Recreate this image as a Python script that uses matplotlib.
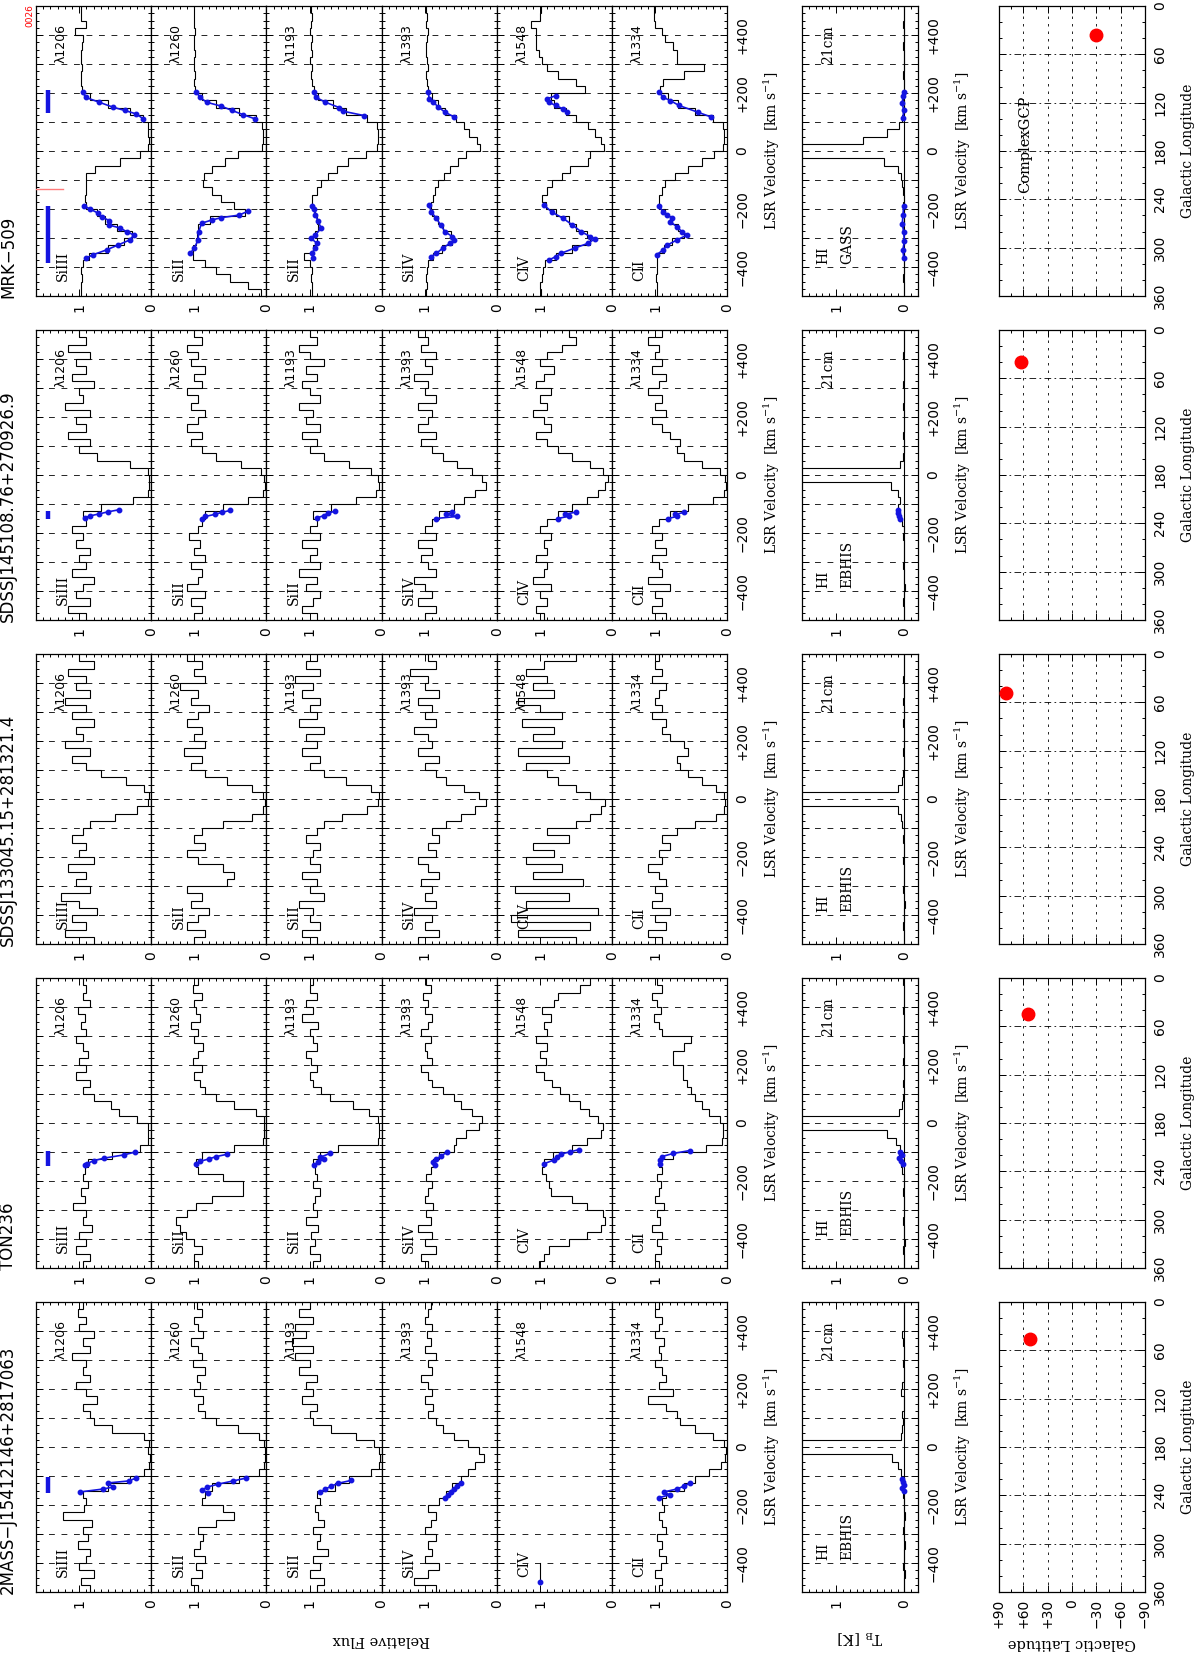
import numpy as np
import matplotlib.pyplot as plt
from matplotlib.ticker import MultipleLocator, FuncFormatter

plt.rcParams['mathtext.fontset'] = 'dejavuserif'

# ---------------- data ----------------
sources = ['2MASS\u2212J15412146+2817063', 'TON236', 'SDSSJ133045.15+281321.4',
           'SDSSJ145108.76+270926.9', 'MRK\u2212509']
hi_survey = ['EBHIS', 'EBHIS', 'EBHIS', 'EBHIS', 'GASS']
ion_names = ['SiIII', 'SiII', 'SiII', 'SiIV', 'CIV', 'CII']
ion_lines = ['\u03bb1206', '\u03bb1260', '\u03bb1193', '\u03bb1393', '\u03bb1548', '\u03bb1334']
gal_l = [45.5, 44.7, 48.0, 39.5, 36.0]
gal_b = [52.3, 54.6, 81.0, 63.0, -29.9]

# 25 km/s bins from -500 to +500
vel_edges = np.arange(-500, 501, 25)

# 2MASS-J15412146+2817063
tm_siiii = [.85, .97, .8, 1.0, .9, .85, 1.02, .88, .95, .82,
            1.22, .93, .9, .95, .6, .3, .1, .03, .02, .04,
            .03, .1, .55, .8, .85, .95, .75, .9, 1.05, .85,
            .95, .9, 1.1, .85, .95, .8, 1.0, .9, 1.02, .95]
tm_sii60 = [.95, 1.05, .9, .98, .85, 1.0, .92, .88, .95, .7,
            .45, .6, .9, .85, .75, .38, .1, .03, .02, .02,
            .03, .1, .4, .7, .85, .95, .88, 1.0, .92, .97,
            .85, 1.02, .9, .95, 1.05, .88, .95, 1.0, .9, .97]
tm_sii93 = [.9, .8, 1.0, .85, .95, .75, .9, .85, .95, .8,
            .88, .92, .85, .9, .65, .45, .15, .03, .02, .04,
            .1, .35, .7, .95, 1.0, .9, 1.1, .95, 1.05, .9,
            1.15, 1.0, 1.2, .95, 1.25, 1.05, 1.2, .95, 1.15, 1.0]
tm_siiv = [.85, 1.15, .95, .8, 1.0, .9, .95, .85, 1.0, .92,
           .85, .95, .8, .7, .62, .5, .4, .3, .18, .25,
           .4, .6, .75, .85, .95, .88, 1.0, .9, .95, 1.05,
           .9, .95, .85, 1.0, .92, .97, .9, 1.0, .95, .92]
tm_civ_v = [-465, -400]
tm_civ = [1.0, 1.0]
tm_cii = [.95, .9, 1.0, .92, .85, .95, .9, .98, .85, .9,
          .95, .88, .9, .85, .6, .45, .25, .08, .03, .02,
          .05, .2, .45, .65, .7, .85, 1.1, .75, .95, .85,
          .9, 1.0, .92, .95, .88, 1.0, .95, .9, 1.0, .95]
tm_hi = [.0, .01, -.01, .02, .0, .01, -.01, .0, .02, .01,
         -.01, .0, .01, .02, .03, .02, .05, .1, .18, 5.0,
         3.0, .05, .03, .02, .04, .01, .0, .05, .03, .01,
         .0, .02, .01, .0, .02, .03, .01, .0, .01, .0]
tm_blue_v = [[-155, -145, -138, -124, -117, -107],
             [-159, -148, -138, -128, -117, -107],
             [-155, -145, -135, -125, -115],
             [-175, -165, -155, -145, -135, -125],
             [-465],
             [-175, -165, -155, -145, -135, -125],
             [-150, -140, -130, -120, -110]]
tm_blue_f = [[.99, .67, .53, .6, .31, .21],
             [.81, .89, .82, .67, .46, .28],
             [.85, .78, .7, .6, .42],
             [.72, .68, .64, .6, .55, .5],
             [1.0],
             [.95, .8, .88, .7, .6, .52],
             [.01, .03, .0, .02, .04]]

# TON236
ton_siiii = [.95, .85, 1.05, .9, 1.0, .82, .95, .9, 1.08, .92,
             .97, .88, .95, .92, .88, .55, .15, .04, .04, .04,
             .2, .45, .56, .8, .95, .85, 1.05, .9, 1.0, .88,
             .95, 1.05, .9, .98, .92, 1.02, .85, .95, .9, .95]
ton_sii60 = [.95, 1.0, .9, 1.0, 1.12, 1.2, 1.25, 1.1, .98, .75,
             .33, .33, .6, .95, .98, .9, .45, .05, .03, .03,
             .03, .15, .45, .7, .85, .92, 1.0, .9, 1.02, .95,
             .88, 1.0, .95, 1.05, .92, .98, 1.0, .9, 1.02, .95]
ton_sii93 = [.95, .85, 1.0, .92, .98, .88, 1.05, .9, .95, .92,
             .85, .95, .9, .92, .95, .85, .6, .05, .04, .04,
             .05, .18, .4, .72, .84, .95, 1.0, .9, .98, 1.05,
             .9, .95, 1.0, .88, 1.1, .95, 1.05, .9, 1.0, .95]
ton_siiv = [.95, 1.05, .85, 1.0, .9, 1.1, .92, .98, .88, 1.0,
            .95, .9, .98, .92, .88, .8, .6, .56, .43, .25,
            .2, .35, .5, .6, .75, .9, .95, 1.05, .9, .97,
            1.0, .92, 1.05, .95, .9, 1.0, .95, 1.02, .92, .98]
ton_civ = [1.02, .95, .88, .6, .35, .15, .1, .12, .35, .55,
           .85, .88, .92, .97, .95, .82, .55, .35, .15, .13,
           .2, .32, .45, .6, .72, .84, .95, 1.05, .92, 1.0,
           .9, 1.05, .9, .95, .85, .97, .8, .75, .45, .3]
ton_cii = [.95, 1.0, .92, .97, .9, 1.05, .93, .97, .88, 1.0,
           .95, .92, .98, .9, .95, .75, .3, .07, .06, .06,
           .1, .25, .35, .45, .5, .56, .62, .62, .75, .75,
           .6, .5, .9, .95, 1.02, .92, .98, 1.05, .9, .97]
ton_hi = [.01, .0, .02, -.01, .01, .0, .02, .01, .0, .01,
          .02, .0, .01, .03, .05, .08, .06, .12, .25, 5.0,
          2.5, .08, .03, .02, .01, .02, .0, .01, .02, .0,
          .01, .02, .0, .01, .0, .02, .01, .0, .01, .02]
ton_blue_v = [[-145, -140, -130, -121, -110, -100],
              [-140, -132, -124, -116, -108],
              [-145, -135, -125, -118, -105],
              [-145, -135, -125, -115, -100],
              [-140, -128, -116, -107, -100, -92],
              [-140, -128, -116, -105, -95],
              [-140, -130, -120, -110, -100]]
ton_blue_f = [[.92, .89, .8, .65, .38, .22],
              [.98, .92, .8, .7, .55],
              [.94, .88, .8, .85, .72],
              [.86, .88, .84, .78, .69],
              [.94, .81, .76, .71, .59, .46],
              [.94, .93, .91, .75, .52],
              [.02, .05, .08, .04, .06]]

# SDSSJ133045.15+281321.4
s13_siiii = [.8, 1.2, .9, 1.1, .75, 1.0, 1.25, .85, 1.05, .9,
             1.15, .8, 1.0, .9, 1.1, .95, .85, .5, .2, .05,
             .03, .1, .35, .7, .9, 1.1, .85, 1.2, .95, 1.05,
             .8, 1.1, .9, 1.2, .85, 1.05, .9, 1.15, .8, 1.0]
s13_sii60 = [1.0, .85, 1.1, .95, .8, 1.05, .9, 1.1, .55, .45,
             .6, .95, 1.1, .85, 1.0, .9, .6, .2, .05, .02,
             .05, .2, .55, .85, 1.05, .9, 1.15, .85, 1.0, .9,
             1.1, .95, .8, 1.05, .95, 1.2, .85, 1.0, .9, 1.1]
s13_sii93 = [.9, 1.1, .85, 1.0, .95, 1.15, .8, 1.0, .9, 1.1,
             .85, 1.0, .95, .85, 1.05, .9, .8, .55, .2, .05,
             .03, .15, .5, .8, 1.0, .85, 1.1, .9, 1.05, .8,
             1.15, .9, 1.0, .85, 1.1, .95, 1.2, .85, 1.05, .9]
s13_siiv = [1.1, .8, 1.0, .9, 1.15, .85, 1.0, .9, 1.05, .8,
            .95, 1.1, .85, .95, .8, .9, .7, .5, .3, .15,
            .25, .45, .7, .85, 1.0, .8, 1.1, .9, .95, 1.15,
            .85, 1.0, .9, 1.1, .8, 1.0, .95, 1.2, .85, .95]
s13_civ = [.5, 1.3, .3, 1.4, .2, 1.2, .6, 1.35, .4, 1.1,
           .7, 1.2, .8, 1.1, .6, .9, .5, .3, .15, .1,
           .3, .5, .75, .9, 1.2, .6, 1.3, .7, 1.1, .8,
           1.25, .7, 1.0, 1.3, .8, 1.1, .9, 1.2, .95, .5]
s13_cii = [.9, 1.1, .85, 1.0, .8, 1.05, .9, 1.0, .85, .95,
           1.1, .9, .95, .8, .9, .7, .45, .15, .05, .03,
           .05, .15, .35, .55, .65, .7, .55, .6, .8, .9,
           .85, 1.05, .9, 1.0, .95, .85, 1.05, .9, 1.0, .95]
s13_hi = [.0, .01, .02, .0, .01, -.01, .0, .02, .01, .0,
          .01, .02, .0, .01, .02, .01, .03, .05, .1, 5.0,
          3.5, .1, .03, .02, .01, .0, .02, .01, .0, .01,
          .02, .0, .01, .02, .0, .01, .02, .0, .01, .0]
s13_blue_v = [[], [], [], [], [], [], []]
s13_blue_f = [[], [], [], [], [], [], []]

# SDSSJ145108.76+270926.9
s14_siiii = [.9, 1.15, .85, 1.05, .95, .8, 1.1, .9, 1.0, .85,
             1.05, .95, 1.1, .9, .95, .7, .25, .05, .03, .03,
             .05, .3, .75, 1.0, .85, 1.15, .9, 1.05, .85, 1.2,
             .95, 1.0, .8, 1.1, .9, 1.05, .85, 1.15, .9, 1.0]
s14_sii60 = [1.0, .9, 1.05, .85, 1.1, .95, .9, 1.05, .85, 1.0,
             .92, 1.08, .95, .9, .85, .6, .25, .05, .02, .03,
             .08, .35, .7, .9, 1.05, .9, 1.1, .95, .85, 1.05,
             .95, 1.1, .9, 1.0, .85, 1.05, .95, 1.1, .9, 1.0]
s14_sii93 = [.9, 1.1, .95, .85, 1.05, .9, 1.15, .85, 1.0, .9,
             1.1, .85, 1.0, .9, .95, .7, .35, .08, .04, .05,
             .15, .45, .8, 1.0, .9, 1.1, .85, 1.05, .95, 1.15,
             .85, 1.0, 1.1, .9, 1.05, .8, 1.0, 1.15, .9, 1.0]
s14_siiv = [1.0, .85, 1.1, .9, 1.0, 1.15, .85, .95, 1.05, .9,
            1.1, .85, 1.0, .9, .8, .6, .45, .3, .15, .2,
            .35, .55, .75, .9, 1.05, .85, 1.1, .95, .9, 1.1,
            .85, 1.0, .95, 1.15, .9, 1.0, .85, 1.05, .95, 1.1]
s14_civ = [.95, 1.05, .9, 1.0, .85, 1.1, .95, .9, 1.05, .9,
           .95, .85, 1.0, .9, .75, .55, .35, .2, .1, .05,
           .12, .3, .55, .75, .9, 1.05, .85, .95, 1.1, .9,
           1.0, .85, 1.05, .95, .8, 1.0, .9, .7, .5, .6]
s14_cii = [.85, 1.05, .9, 1.0, .8, 1.1, .9, .95, 1.05, .85,
           1.0, .9, 1.05, .95, .8, .55, .2, .04, .02, .03,
           .1, .35, .6, .7, .65, .8, .9, 1.05, .85, 1.0,
           .9, 1.1, .95, .85, 1.05, .9, 1.0, .95, 1.1, .9]
s14_hi = [.01, .0, .02, .01, -.01, .0, .01, .02, .0, .01,
          .0, .02, .01, .03, .06, .1, .07, .1, .2, 5.0,
          3.0, .06, .02, .01, .0, .02, .01, .0, .01, .02,
          .0, .01, .02, .0, .01, .0, .02, .01, .0, .01]
s14_blue_v = [[-148, -141, -134, -127, -120],
              [-150, -143, -136, -129, -122],
              [-148, -140, -132, -125],
              [-150, -143, -136, -129],
              [-150, -142, -135, -128],
              [-150, -143, -136, -129],
              [-150, -140, -130, -120]]
s14_blue_f = [[.92, .85, .72, .6, .45],
              [.9, .85, .72, .62, .5],
              [.9, .8, .75, .65],
              [.85, .55, .7, .62],
              [.75, .6, .65, .5],
              [.82, .7, .72, .6],
              [.06, .08, .1, .09]]

# MRK-509
mrk_siiii = [.97, .98, .96, .97, .95, .86, .6, .38, .27, .48,
             .64, .75, .9, .92, .91, .91, .9, .78, .43, .15,
             .04, .03, .04, .05, .12, .3, .6, .85, .96, .97,
             .98, .96, .97, .98, .96, .95, 1.06, .9, .97, .98]
mrk_sii60 = [.08, .25, .5, .7, .85, 1.02, 1.02, .98, .96, .95,
             .78, .3, .45, .63, .76, .88, .86, .75, .57, .4,
             .06, .05, .05, .06, .15, .38, .7, .9, .99, 1.0,
             .99, 1.01, 1.0, .99, 1.0, 1.01, .99, 1.0, 1.0, 1.0]
mrk_sii93 = [.97, .96, .98, .97, .99, 1.08, .95, .9, .93, .88,
             .9, .92, .96, .97, .9, .84, .75, .62, .46, .21,
             .06, .05, .05, .06, .2, .5, .68, .88, .94, .97,
             .98, .96, .99, .97, .98, .96, .99, .98, .97, .98]
mrk_siiv = [.98, .97, .99, .97, .96, .88, .76, .62, .64, .75,
            .82, .9, .92, .88, .86, .81, .74, .65, .54, .43,
            .24, .28, .38, .45, .57, .72, .82, .9, .95, .97,
            .98, .96, .97, .99, .98, .97, .96, .98, .97, .98]
mrk_civ = [.98, 1.0, .97, .96, .93, .78, .55, .3, .35, .5,
           .6, .78, .92, .97, .9, .84, .7, .58, .33, .3,
           .11, .15, .24, .34, .5, .64, .8, .85, .38, .5,
           .75, .9, .97, 1.02, 1.06, 1.05, 1.06, 1.12, 1.0, .98]
mrk_cii = [.98, .97, .99, .98, .97, .97, .88, .76, .6, .68,
           .78, .86, .95, .95, .9, .86, .73, .54, .35, .19,
           .06, .05, .05, .06, .2, .45, .68, .82, .93, .89,
           .6, .32, .7, .7, .75, .86, .9, 1.0, 1.02, 1.01]
mrk_hi = [.01, .0, .02, .01, .0, .01, .02, .0, .01, .02,
          .01, .0, .02, .01, .02, .03, .05, .1, .3, 6.0,
          4.0, .6, .25, .08, .03, .02, .01, .02, .0, .01,
          .02, .01, .0, .01, .02, .0, .01, .02, .01, .0]
mrk_blue_v = [[-370, -358, -341, -324, -307, -290, -278, -265, -255, -240, -227, -214, -200, -189,
               111, 128, 140, 151, 168, 185, 203],
              [-353, -335, -307, -278, -249, -238, -230, -221, -207,
               111, 125, 140, 155, 168, 185, 205],
              [-370, -353, -335, -318, -301, -290, -266, -243, -220, -201, -189,
               122, 137, 150, 168, 185, 203],
              [-364, -353, -335, -318, -307, -295, -278, -255, -232, -210, -187,
               117, 134, 151, 168, 180, 203],
              [-375, -364, -353, -335, -318, -303, -295, -278, -255, -232, -210, -187,
               134, 145, 157, 168, 180, 191],
              [-358, -341, -324, -307, -290, -278, -261, -244, -232, -221, -210, -189,
               117, 134, 157, 174, 185, 205],
              [-370, -340, -310, -280, -250, -220, -190, 115, 140, 165, 190, 205]]
mrk_blue_f = [[.91, .81, .62, .46, .30, .24, .34, .44, .59, .58, .69, .74, .85, .94,
               .11, .21, .37, .53, .72, .91, .95],
              [1.06, 1.0, .95, .94, .9, .76, .63, .38, .25,
               .16, .32, .48, .63, .83, .92, .98],
              [.95, .97, .92, .9, .98, .92, .84, .88, .92, .94, .97,
               .24, .53, .59, .78, .91, .94],
              [.91, .84, .75, .65, .59, .62, .72, .78, .84, .91, .94,
               .59, .72, .81, .88, .94, .95],
              [.87, .78, .71, .52, .33, .24, .3, .43, .55, .68, .84, .94,
               .62, .68, .78, .88, .9, .78],
              [.98, .89, .83, .7, .56, .63, .7, .79, .76, .83, .89, .95,
               .22, .41, .67, .79, .89, .95],
              [.01, .02, .0, .01, .03, .02, .01, .02, .01, .03, .02, .01]]

# velocity ranges marked with a blue bar in the SiIII panels
bar_lo = [[-159], [-149], [], [-150], [-387, 132]]
bar_hi = [[-103], [-97], [], [-125], [-189, 212]]

# ---------------- layout ----------------
W, H = 1200, 1655
ROW_BOTTOM = [1592, 1268, 944, 620, 296]
ROW_H = 290
ION_X0, ION_W = 36, 115.2
HI_X0, HI_W = 802, 116
MAP_X0, MAP_W = 999, 146
BLUE = '#1414e0'
SERIF = 'DejaVu Serif'
NARROW = ['Liberation Sans Narrow', 'DejaVu Sans']

spectra = [
    [tm_siiii, tm_sii60, tm_sii93, tm_siiv, tm_civ, tm_cii, tm_hi],
    [ton_siiii, ton_sii60, ton_sii93, ton_siiv, ton_civ, ton_cii, ton_hi],
    [s13_siiii, s13_sii60, s13_sii93, s13_siiv, s13_civ, s13_cii, s13_hi],
    [s14_siiii, s14_sii60, s14_sii93, s14_siiv, s14_civ, s14_cii, s14_hi],
    [mrk_siiii, mrk_sii60, mrk_sii93, mrk_siiv, mrk_civ, mrk_cii, mrk_hi],
]
blue_v = [tm_blue_v, ton_blue_v, s13_blue_v, s14_blue_v, mrk_blue_v]
blue_f = [tm_blue_f, ton_blue_f, s13_blue_f, s14_blue_f, mrk_blue_f]

fig = plt.figure(figsize=(12, 16.55), dpi=100)


def px_axes(x0, ybot, w, h):
    return fig.add_axes([x0 / W, 1 - ybot / H, w / W, h / H])


def fig_text(x, y, s, **kw):
    fig.text(x / W, 1 - y / H, s, **kw)


def vel_fmt(v, pos):
    if v % 200:
        return ''
    if v == 0:
        return '0'
    return '+%d' % v if v > 0 else '\u2212%d' % -v


def tick_font(ax):
    for lab in ax.get_xticklabels() + ax.get_yticklabels():
        lab.set_family(NARROW)


def style_vel_panel(ax, xlim, label_right):
    ax.set_xlim(*xlim)
    ax.set_ylim(-500, 500)
    ax.set_xticks([0, 1])
    ax.set_xticklabels(['0', '1'])
    ax.xaxis.set_minor_locator(MultipleLocator(0.1))
    ax.yaxis.set_major_locator(MultipleLocator(100))
    ax.yaxis.set_minor_locator(MultipleLocator(25))
    ax.yaxis.set_major_formatter(FuncFormatter(vel_fmt))
    ax.tick_params(which='both', direction='in', top=True, bottom=True,
                   left=True, right=True, width=0.7)
    ax.tick_params(which='major', length=5)
    ax.tick_params(which='minor', length=2.5)
    ax.tick_params(axis='x', labelrotation=90, labelsize=10, pad=5)
    ax.tick_params(axis='y', labelleft=False, labelright=label_right,
                   labelrotation=90, labelsize=10, pad=6)
    plt.setp(ax.get_yticklabels(), va='center')
    tick_font(ax)
    for v in range(-400, 401, 100):
        ax.axhline(v, color='k', lw=0.6, ls=(0, (7, 8)), zorder=1)
    for s in ax.spines.values():
        s.set_linewidth(0.9)


def draw_blue(ax, v, f):
    v = np.asarray(v, float)
    f = np.asarray(f, float)
    if len(v) == 0:
        return
    cuts = np.where(np.diff(v) > 60)[0] + 1
    for sv, sf in zip(np.split(v, cuts), np.split(f, cuts)):
        ax.plot(sf, sv, color=BLUE, lw=1.2, marker='o', ms=3.2,
                mfc=BLUE, mec=BLUE, zorder=4)


for i, name in enumerate(sources):
    rb = ROW_BOTTOM[i]
    yc = rb - ROW_H / 2

    # absorption panels
    for j in range(6):
        ax = px_axes(ION_X0 + j * ION_W, rb, ION_W, ROW_H)
        style_vel_panel(ax, (1.6, 0), label_right=(j == 5))
        vals = spectra[i][j]
        if len(vals) == len(vel_edges) - 1:
            ax.stairs(vals, vel_edges, orientation='horizontal', baseline=None,
                      color='k', lw=0.8, zorder=3)
        else:
            ax.plot(vals, tm_civ_v, color='k', lw=0.8, zorder=3)
        draw_blue(ax, blue_v[i][j], blue_f[i][j])
        ax.text(1.22, -448, ion_names[j], rotation=90, ha='center', va='bottom',
                family=SERIF, fontsize=10)
        ax.text(1.25, 438, ion_lines[j], rotation=90, ha='center', va='top',
                fontsize=9)
        if j == 0:
            for lo, hi in zip(bar_lo[i], bar_hi[i]):
                ax.plot([1.44, 1.44], [lo, hi], color=BLUE, lw=3.2,
                        solid_capstyle='butt', zorder=4)
            if i == 4:
                ax.plot([1.6, 1.23], [-130, -130], color='#ff7b7b', lw=1.0, zorder=4)

    fig_text(8, rb + 2, name, rotation=90, ha='center', va='bottom', fontsize=12)
    fig_text(772, yc, 'LSR Velocity  [km s$^{-1}$]', rotation=90, ha='center',
             va='center', family=SERIF, fontsize=10)

    # 21cm panel
    ax = px_axes(HI_X0, rb, HI_W, ROW_H)
    style_vel_panel(ax, (1.5, -0.2), label_right=True)
    ax.stairs(spectra[i][6], vel_edges, orientation='horizontal', baseline=None,
              color='k', lw=0.8, zorder=3)
    ax.axvline(0, color='k', lw=0.8, zorder=2)
    draw_blue(ax, blue_v[i][6], blue_f[i][6])
    ax.text(1.19, -390, 'HI', rotation=90, ha='center', va='bottom',
            family=SERIF, fontsize=10)
    ax.text(0.84, -390, hi_survey[i], rotation=90, ha='center', va='bottom',
            family=SERIF, fontsize=10)
    ax.text(1.12, 432, '21cm', rotation=90, ha='center', va='top',
            family=SERIF, fontsize=10)
    fig_text(963, yc, 'LSR Velocity  [km s$^{-1}$]', rotation=90, ha='center',
             va='center', family=SERIF, fontsize=10)

    # sky position panel
    ax = px_axes(MAP_X0, rb, MAP_W, ROW_H)
    ax.set_xlim(90, -90)
    ax.set_ylim(360, 0)
    ax.set_xticks(range(-90, 91, 30))
    ax.set_xticklabels(['\u221290', '\u221260', '\u221230', '0', '+30', '+60', '+90'])
    ax.xaxis.set_minor_locator(MultipleLocator(15))
    ax.set_yticks(range(0, 361, 60))
    ax.yaxis.set_minor_locator(MultipleLocator(20))
    ax.tick_params(which='both', direction='in', top=True, bottom=True,
                   left=True, right=True, width=0.7)
    ax.tick_params(which='major', length=5)
    ax.tick_params(which='minor', length=2.5)
    ax.tick_params(axis='x', labelbottom=(i == 0), labelrotation=90, labelsize=10, pad=5)
    ax.tick_params(axis='y', labelleft=False, labelright=True, labelrotation=90,
                   labelsize=10, pad=6)
    plt.setp(ax.get_yticklabels(), va='center')
    tick_font(ax)
    for l in range(60, 301, 60):
        ax.axhline(l, color='k', lw=0.6, ls=(0, (8, 4, 2, 4)), zorder=1)
    for b in range(-60, 61, 30):
        ax.axvline(b, color='k', lw=0.6, ls=(0, (3, 6)), zorder=1)
    for s in ax.spines.values():
        s.set_linewidth(0.9)
    ax.plot(gal_b[i], gal_l[i], 'o', color='red', ms=9, zorder=5)
    if i == 4:
        ax.text(58, 172, 'ComplexGCP', rotation=90, ha='center', va='center',
                family=SERIF, fontsize=10.5)
    fig_text(1188, yc, 'Galactic Longitude', rotation=90, ha='center', va='center',
             family=SERIF, fontsize=10)

# axis labels of the bottom row (upside down in the rotated page)
fig_text(381, 1640, 'Relative Flux', rotation=180, ha='center', va='center',
         family=SERIF, fontsize=10.5)
fig_text(860, 1637, 'T$_\\mathrm{B}$ [K]', rotation=180, ha='center', va='center',
         family=SERIF, fontsize=10.5)
fig_text(1072, 1643, 'Galactic Latitude', rotation=180, ha='center', va='center',
         family=SERIF, fontsize=10.5)
fig_text(30, 4, '0026', rotation=90, ha='center', va='top', color='red', fontsize=6.5)

fig.savefig('out.png', dpi=100)
